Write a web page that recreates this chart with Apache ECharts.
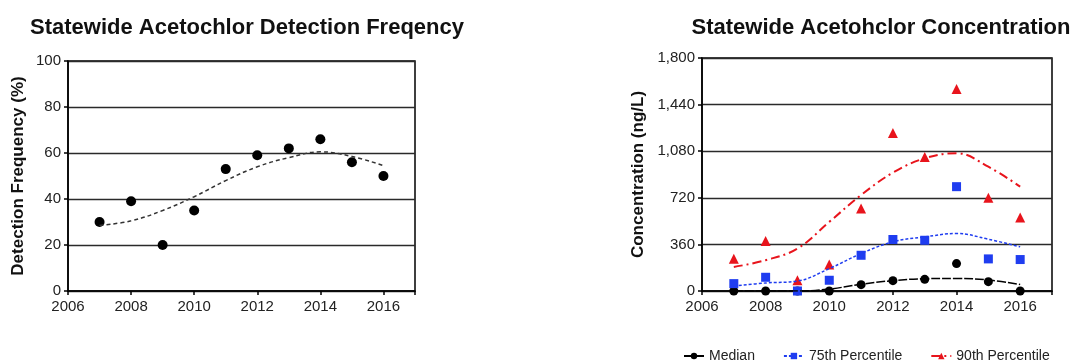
<!DOCTYPE html>
<html><head><meta charset="utf-8">
<script src="https://cdn.jsdelivr.net/npm/echarts@6/dist/echarts.min.js"></script>
<style>html,body{margin:0;padding:0;background:#fff}#c{width:1073px;height:362px}</style>
</head><body><div id="c"></div>
<script>
const years = [2007, 2008, 2009, 2010, 2011, 2012, 2013, 2014, 2015, 2016];
const xTickLabels = ['2006', '2008', '2010', '2012', '2014', '2016'];
const detectionFreq = [30, 39, 20, 35, 53, 59, 62, 66, 56, 50];
const detectionTrend = [28.5, 30.5, 35, 41, 48, 54, 58, 60.5, 58.5, 54.5];
const medianConc = [0, 0, 0, 0, 49, 80, 90, 212, 72, 0];
const p75Conc = [57, 106, 0, 83, 276, 398, 392, 806, 248, 243];
const p90Conc = [250, 387, 83, 204, 638, 1221, 1035, 1560, 720, 568];
const medianTrend = [0, 0, 0, 15, 52, 80, 95, 97, 85, 50];
const p75Trend = [38, 62, 77, 173, 289, 380, 418, 444, 400, 341];
const p90Trend = [186, 238, 328, 534, 741, 914, 1025, 1064, 960, 806];
const leftTitle = 'Statewide Acetochlor Detection Freqency';
const rightTitle = 'Statewide Acetohclor Concentration';
const leftYName = 'Detection Frequency (%)';
const rightYName = 'Concentration (ng/L)';
const seriesNames = ['Median', '75th Percentile', '90th Percentile'];

const pair = (xs, ys) => xs.map((x, i) => [x, ys[i]]);
const FONT = 'Liberation Sans, Arial, sans-serif';
const RED = '#e8141c', BLUE = '#1f3df0', BLACK = '#000';

function xAxis(gi) {
  return {
    type: 'value', gridIndex: gi, min: 2006, max: 2017, interval: 2,
    axisLine: { show: true, lineStyle: { color: '#000', width: 1.5 } },
    axisTick: { show: true, length: 4, lineStyle: { color: '#000', width: 1.5 } },
    splitLine: { show: false },
    axisLabel: {
      color: '#222', fontSize: 15, fontFamily: FONT, margin: 8,
      formatter: v => xTickLabels.indexOf(String(v)) >= 0 ? String(v) : ''
    }
  };
}
function yAxis(gi, max, interval, name, gap, fmt) {
  return {
    type: 'value', gridIndex: gi, min: 0, max: max, interval: interval,
    name: name, nameLocation: 'middle', nameGap: gap, nameRotate: 90,
    nameTextStyle: { fontSize: 17, fontWeight: 'bold', color: '#111', fontFamily: FONT },
    axisLine: { show: true, lineStyle: { color: '#000', width: 1.5 } },
    axisTick: { show: true, length: 4, lineStyle: { color: '#000', width: 1.5 } },
    splitLine: { show: true, lineStyle: { color: '#2a2a2a', width: 1.4 } },
    axisLabel: { color: '#222', fontSize: 15, fontFamily: FONT, margin: 7, formatter: fmt }
  };
}

const chart = echarts.init(document.getElementById('c'), null, { renderer: 'canvas' });
chart.setOption({
  animation: false,
  backgroundColor: '#fff',
  title: [
    { text: leftTitle, left: 242, top: 12, textAlign: 'center',
      textStyle: { fontSize: 22, fontWeight: 'bold', color: '#111', fontFamily: FONT } },
    { text: rightTitle, left: 876, top: 12, textAlign: 'center',
      textStyle: { fontSize: 22, fontWeight: 'bold', color: '#111', fontFamily: FONT } }
  ],
  grid: [
    { left: 68, right: 658, top: 61, bottom: 71, show: true, borderColor: '#000', borderWidth: 1.5, backgroundColor: 'transparent' },
    { left: 702, right: 21, top: 58, bottom: 71, show: true, borderColor: '#000', borderWidth: 1.5, backgroundColor: 'transparent' }
  ],
  xAxis: [xAxis(0), xAxis(1)],
  yAxis: [
    yAxis(0, 100, 20, leftYName, 41, v => String(v)),
    yAxis(1, 1800, 360, rightYName, 55, v => v.toLocaleString('en-US'))
  ],
  legend: {
    bottom: -6, left: 678, itemGap: 28, itemWidth: 20, itemHeight: 8,
    data: seriesNames,
    textStyle: { fontSize: 14, color: '#222', fontFamily: FONT }
  },
  series: [
    { type: 'line', xAxisIndex: 0, yAxisIndex: 0, data: pair(years, detectionTrend), smooth: 0.4,
      showSymbol: false, symbol: 'none', lineStyle: { color: '#333', width: 1.5, type: [4, 3] }, silent: true },
    { type: 'scatter', xAxisIndex: 0, yAxisIndex: 0, data: pair(years, detectionFreq),
      symbol: 'circle', symbolSize: 10, itemStyle: { color: '#000', opacity: 1 } },

    { name: seriesNames[0], type: 'line', xAxisIndex: 1, yAxisIndex: 1, data: pair(years, medianTrend), smooth: 0.4,
      showSymbol: false, symbol: 'circle', symbolSize: 6, itemStyle: { color: BLACK },
      lineStyle: { color: BLACK, width: 1.5, type: [9, 2] } },
    { name: seriesNames[1], type: 'line', xAxisIndex: 1, yAxisIndex: 1, data: pair(years, p75Trend), smooth: 0.4,
      showSymbol: false, symbol: 'rect', symbolSize: 7, itemStyle: { color: BLUE },
      lineStyle: { color: BLUE, width: 1.5, type: [3, 2] } },
    { name: seriesNames[2], type: 'line', xAxisIndex: 1, yAxisIndex: 1, data: pair(years, p90Trend), smooth: 0.4,
      showSymbol: false, symbol: 'triangle', symbolSize: 7, itemStyle: { color: RED },
      lineStyle: { color: RED, width: 2, type: [9, 4, 2, 4] } },
    { name: seriesNames[0], type: 'scatter', xAxisIndex: 1, yAxisIndex: 1, data: pair(years, medianConc),
      symbol: 'circle', symbolSize: 9, itemStyle: { color: BLACK, opacity: 1 } },
    { name: seriesNames[1], type: 'scatter', xAxisIndex: 1, yAxisIndex: 1, data: pair(years, p75Conc),
      symbol: 'rect', symbolSize: 9, itemStyle: { color: BLUE, opacity: 1 } },
    { name: seriesNames[2], type: 'scatter', xAxisIndex: 1, yAxisIndex: 1, data: pair(years, p90Conc),
      symbol: 'triangle', symbolSize: 10, itemStyle: { color: RED, opacity: 1 } }
  ]
});
</script></body></html>
